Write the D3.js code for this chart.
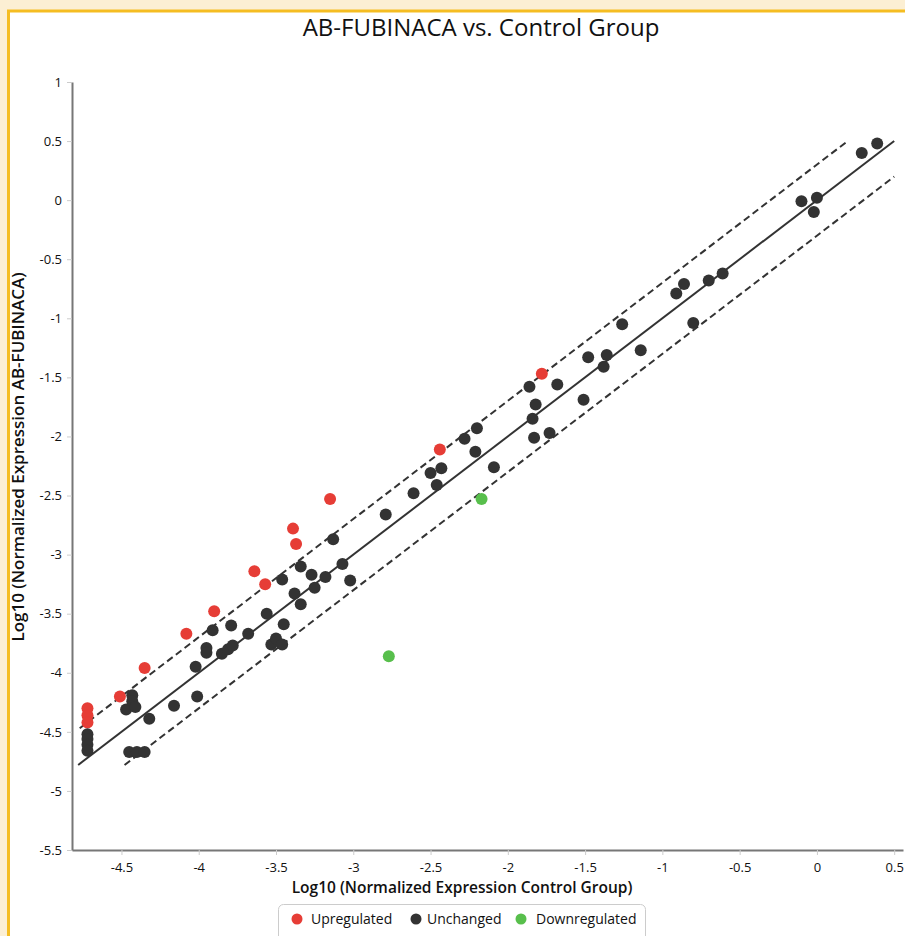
<!DOCTYPE html>
<html>
<head>
<meta charset="utf-8">
<script src="https://cdn.jsdelivr.net/npm/d3@7"></script>
<style>
  html, body { margin: 0; padding: 0; background: #fcefd3; }
  svg { display: block; font-family: "Open Sans", sans-serif; }
</style>
</head>
<body>
<script>
// ---- data ----
const upregulated = [
  [-4.72, -4.30], [-4.72, -4.36], [-4.72, -4.42], [-4.51, -4.20], [-4.35, -3.96],
  [-4.08, -3.67], [-3.90, -3.48], [-3.64, -3.14], [-3.57, -3.25], [-3.39, -2.78],
  [-3.37, -2.91], [-3.15, -2.53], [-2.44, -2.11], [-1.78, -1.47]
];
const unchanged = [
  [-4.72, -4.52], [-4.72, -4.56], [-4.72, -4.61], [-4.72, -4.66],
  [-4.47, -4.31], [-4.43, -4.19], [-4.43, -4.24], [-4.41, -4.29], [-4.32, -4.39],
  [-4.45, -4.67], [-4.40, -4.67], [-4.35, -4.67],
  [-4.16, -4.28], [-4.01, -4.20], [-4.02, -3.95], [-3.95, -3.79], [-3.95, -3.83],
  [-3.91, -3.64], [-3.79, -3.60], [-3.85, -3.84], [-3.81, -3.80], [-3.78, -3.77],
  [-3.68, -3.67], [-3.56, -3.50], [-3.45, -3.59], [-3.53, -3.76], [-3.50, -3.71],
  [-3.46, -3.76], [-3.34, -3.42], [-3.46, -3.21], [-3.38, -3.33], [-3.34, -3.10],
  [-3.27, -3.17], [-3.25, -3.28], [-3.18, -3.19], [-3.13, -2.87], [-3.07, -3.08],
  [-3.02, -3.22], [-2.79, -2.66], [-2.61, -2.48], [-2.50, -2.31], [-2.43, -2.27],
  [-2.46, -2.41], [-2.28, -2.02], [-2.20, -1.93], [-2.21, -2.13], [-2.09, -2.26],
  [-1.86, -1.58], [-1.68, -1.56], [-1.82, -1.73], [-1.84, -1.85], [-1.83, -2.01],
  [-1.73, -1.97], [-1.51, -1.69], [-1.38, -1.41], [-1.48, -1.33], [-1.36, -1.31],
  [-1.26, -1.05], [-1.14, -1.27], [-0.91, -0.79], [-0.86, -0.71], [-0.70, -0.68],
  [-0.61, -0.62], [-0.80, -1.04], [-0.10, -0.01], [0.00, 0.02], [-0.02, -0.10],
  [0.29, 0.40], [0.39, 0.48]
];
const downregulated = [[-2.17, -2.53], [-2.77, -3.86]];

// reference lines: y = x + offset, between xStart and xEnd
const refOffsets = [0, 0.301, -0.301];
const refXStart = [-4.78, -4.77, -4.48];
const refXEnd = [0.50, 0.20, 0.50];

const xTicks = [-4.5, -4, -3.5, -3, -2.5, -2, -1.5, -1, -0.5, 0, 0.5];
const yTicks = [1, 0.5, 0, -0.5, -1, -1.5, -2, -2.5, -3, -3.5, -4, -4.5, -5, -5.5];
const legendLabels = ["Upregulated", "Unchanged", "Downregulated"];
const legendColors = ["#e63d36", "#333333", "#58bf4c"];

// ---- drawing ----
const W = 905, H = 936;
const svg = d3.select("body").append("svg").attr("width", W).attr("height", H);

svg.append("rect").attr("x", 0).attr("y", 0).attr("width", W).attr("height", H).attr("fill", "#fcefd3");
svg.append("rect").attr("x", 8.5).attr("y", 11).attr("width", W + 20).attr("height", H + 20)
  .attr("fill", "#ffffff").attr("stroke", "#f5bd22").attr("stroke-width", 3);

const x = d3.scaleLinear().domain([-4.82, 0.557]).range([72, 903]);
const y = d3.scaleLinear().domain([-5.5, 1]).range([850, 82]);

const fmt = d => String(d);

// title
svg.append("text").attr("x", 481).attr("y", 36).attr("text-anchor", "middle")
  .attr("font-size", 24).attr("fill", "#111").text("AB-FUBINACA vs. Control Group");

// axes
const xAxis = svg.append("g").attr("transform", `translate(0,${y(-5.5)})`)
  .call(d3.axisBottom(x).tickValues(xTicks).tickFormat(fmt).tickSize(5).tickSizeOuter(0));
const yAxis = svg.append("g").attr("transform", `translate(${x(-4.82)},0)`)
  .call(d3.axisLeft(y).tickValues(yTicks).tickFormat(fmt).tickSize(5).tickSizeOuter(0));
[xAxis, yAxis].forEach(g => {
  g.select(".domain").attr("stroke", "#777").attr("stroke-width", 2);
  g.selectAll(".tick line").attr("stroke", "#ccc");
  g.selectAll(".tick text").attr("fill", "#111").attr("font-size", 13)
    .style("font-family", "'Open Sans', sans-serif");
});
xAxis.selectAll(".tick text").attr("dy", "1.1em");
yAxis.selectAll(".tick text").attr("x", -10);

// axis labels
svg.append("text").attr("x", 462).attr("y", 893).attr("text-anchor", "middle")
  .attr("font-size", 15.5).attr("font-weight", 600).attr("fill", "#111")
  .text("Log10 (Normalized Expression Control Group)");
svg.append("text").attr("transform", `translate(24,${457}) rotate(-90)`).attr("text-anchor", "middle")
  .attr("font-size", 17).attr("font-weight", 600).attr("fill", "#111")
  .text("Log10 (Normalized Expression AB-FUBINACA)");

// reference lines
const line = d3.line().x(d => x(d[0])).y(d => y(d[1]));
refOffsets.forEach((off, i) => {
  const pts = [[refXStart[i], refXStart[i] + off], [refXEnd[i], refXEnd[i] + off]];
  svg.append("path").attr("d", line(pts)).attr("fill", "none")
    .attr("stroke", "#333").attr("stroke-width", 2)
    .attr("stroke-dasharray", off === 0 ? null : "7,4");
});

// points
const groups = [upregulated, unchanged, downregulated];
groups.forEach((data, gi) => {
  svg.append("g").selectAll("circle").data(data).join("circle")
    .attr("cx", d => x(d[0])).attr("cy", d => y(d[1])).attr("r", 6)
    .attr("fill", legendColors[gi]);
});

// legend
const lg = svg.append("g");
lg.append("rect").attr("x", 278.5).attr("y", 904.5).attr("width", 367).attr("height", 40)
  .attr("rx", 5).attr("fill", "#fff").attr("stroke", "#ccc");
const itemX = [297, 416, 521];
const textX = [311, 427, 536];
legendLabels.forEach((lab, i) => {
  lg.append("circle").attr("cx", itemX[i]).attr("cy", 919).attr("r", 5.5).attr("fill", legendColors[i]);
  lg.append("text").attr("x", textX[i]).attr("y", 924).attr("font-size", 14)
    .attr("font-weight", 500).attr("fill", "#111").text(lab);
});
</script>
</body>
</html>
